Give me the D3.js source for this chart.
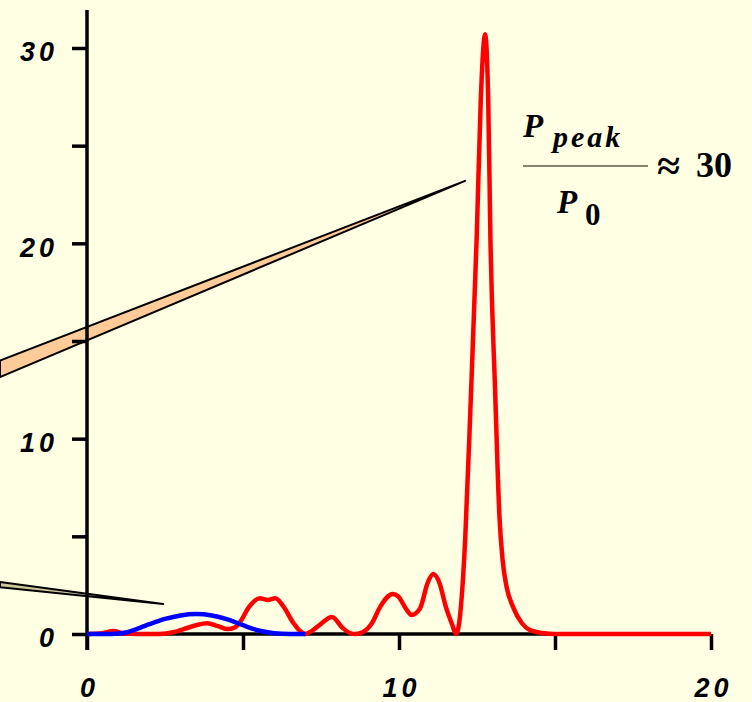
<!DOCTYPE html>
<html>
<head>
<meta charset="utf-8">
<script src="https://cdn.jsdelivr.net/npm/d3@7"></script>
<style>
    html, body { margin: 0; padding: 0; background: #FFFFE3; }
    svg { display: block; }
</style>
</head>
<body>
<div id="chart"></div>
<script>
// Values (x in units, y in units)
const redX = [0, 0.4, 0.85, 1.2, 1.6, 2.3, 2.8, 3.1, 3.5, 3.85, 4.2, 4.5, 4.75, 4.9, 5.2, 5.54, 5.8, 6.03, 6.3, 6.6, 6.85, 7.0,
    7.2, 7.47, 7.85, 8.2, 8.43, 8.6, 8.85, 9.13, 9.4, 9.8, 9.97, 10.25, 10.4, 10.67, 10.93, 11.1, 11.3, 11.5, 11.7, 11.83,
    11.95, 12.12, 12.3, 12.49, 12.62, 12.76, 12.86, 12.93, 13.08, 13.22, 13.32, 13.45, 13.65, 13.94, 14.2, 14.6, 15, 20];
const redY = [0, 0.02, 0.15, 0.02, 0, 0, 0.1, 0.25, 0.45, 0.55, 0.4, 0.25, 0.35, 0.6, 1.4, 1.83, 1.74, 1.83, 1.4, 0.6, 0.12, 0,
    0.15, 0.48, 0.87, 0.3, 0.05, 0, 0.1, 0.55, 1.4, 2.05, 1.93, 1.23, 0.97, 1.3, 2.67, 3.07, 2.6, 1.4, 0.5, 0,
    0.85, 4.8, 12, 20.3, 27.3, 30.7, 27.3, 20.3, 12.5, 6, 3.8, 2.4, 1.4, 0.55, 0.2, 0.05, 0, 0];

const blueX = [0, 0.8, 1.0, 1.25, 1.5, 1.75, 2.0, 2.5, 3.0, 3.5, 4.0, 4.5, 5.0, 5.5, 6.0, 6.5, 7.0];
const blueY = [0, 0, 0.02, 0.08, 0.2, 0.35, 0.5, 0.77, 0.95, 1.02, 0.95, 0.75, 0.45, 0.18, 0.04, 0, 0];

const xTicks = [0, 5, 10, 15, 20];
const yTicks = [0, 5, 10, 15, 20, 25, 30];

// callout wedges, in data units: [left-top, left-bottom, tip]
const upperWedge = [[-2.79, 14.0], [-2.79, 13.15], [12.12, 23.2]];
const lowerWedge = [[-2.79, 2.66], [-2.79, 2.4], [2.44, 1.53]];

const width = 752;
const height = 702;
const margin = { top: 48, right: 41, bottom: 68, left: 87 };

const svg = d3.select('#chart')
    .append('svg')
        .attr('width', width)
        .attr('height', height);

svg.append('rect')
    .attr('width', width)
    .attr('height', height)
    .attr('fill', '#FFFFE3');

const x = d3.scaleLinear().domain([0, 20]).range([margin.left, width - margin.right]);
const y = d3.scaleLinear().domain([0, 30]).range([height - margin.bottom, margin.top]);

// wedges behind everything
const wedge = (pts, fill) => {
    svg.append('path')
        .attr('d', d3.line().x(d => x(d[0])).y(d => y(d[1]))(pts) + 'Z')
        .attr('fill', fill)
        .attr('stroke', '#000')
        .attr('stroke-width', 2)
        .attr('stroke-linejoin', 'round');
};
wedge(upperWedge, '#FFCC99');
wedge(lowerWedge, '#CFC79C');

// axes
const axisFont = (sel) => sel
    .attr('font-family', 'Liberation Sans, Arial, sans-serif')
    .attr('font-size', '27px')
    .attr('font-weight', 'bold')
    .attr('font-style', 'italic')
    .attr('letter-spacing', '4px')
    .attr('fill', '#000');

const yAxis = svg.append('g')
    .attr('transform', `translate(${x(0)}, 0)`)
    .call(d3.axisLeft(y)
        .tickValues(yTicks)
        .tickSize(15)
        .tickPadding(14)
        .tickFormat(d => d % 10 === 0 ? d : ''));
yAxis.select('.domain').remove();
yAxis.selectAll('.tick line').attr('stroke', '#000').attr('stroke-width', 3.5);
yAxis.selectAll('.tick text').call(axisFont).attr('dy', '0.48em');

const xAxis = svg.append('g')
    .attr('transform', `translate(0, ${y(0)})`)
    .call(d3.axisBottom(x)
        .tickValues(xTicks)
        .tickSize(16)
        .tickPadding(28)
        .tickFormat(d => d % 10 === 0 ? d : ''));
xAxis.select('.domain').remove();
xAxis.selectAll('.tick line').attr('stroke', '#000').attr('stroke-width', 3.5);
xAxis.selectAll('.tick text').call(axisFont).attr('dx', '2px');

// axis lines
svg.append('line')
    .attr('x1', x(0)).attr('x2', x(0))
    .attr('y1', y(31.95)).attr('y2', y(0) + 16)
    .attr('stroke', '#000').attr('stroke-width', 3.5);
svg.append('line')
    .attr('x1', x(0)).attr('x2', x(20))
    .attr('y1', y(0)).attr('y2', y(0))
    .attr('stroke', '#000').attr('stroke-width', 3.5);

// curves
const line = d3.line()
    .x(d => x(d[0]))
    .y(d => y(d[1]))
    .curve(d3.curveMonotoneX);

svg.append('path')
    .attr('d', line(d3.zip(redX, redY)))
    .attr('fill', 'none')
    .attr('stroke', '#FF0000')
    .attr('stroke-width', 4.5)
    .attr('stroke-linejoin', 'round');

svg.append('path')
    .attr('d', line(d3.zip(blueX, blueY)))
    .attr('fill', 'none')
    .attr('stroke', '#0000FF')
    .attr('stroke-width', 4.5)
    .attr('stroke-linejoin', 'round');

// ratio label
const label = svg.append('g')
    .attr('font-family', 'Liberation Serif, Times New Roman, serif')
    .attr('font-weight', 'bold')
    .attr('fill', '#000');

label.append('text')
    .attr('x', 523).attr('y', 137)
    .attr('font-size', '33px')
    .attr('font-style', 'italic')
    .text('P');
label.append('text')
    .attr('x', 553).attr('y', 147)
    .attr('font-size', '30px')
    .attr('font-style', 'italic')
    .attr('letter-spacing', '3px')
    .text('peak');
label.append('line')
    .attr('x1', 523).attr('x2', 648)
    .attr('y1', 166).attr('y2', 166)
    .attr('stroke', '#85856F').attr('stroke-width', 2);
label.append('text')
    .attr('x', 557).attr('y', 213)
    .attr('font-size', '33px')
    .attr('font-style', 'italic')
    .text('P');
label.append('text')
    .attr('x', 585).attr('y', 225)
    .attr('font-size', '31px')
    .text('0');
label.append('text')
    .attr('x', 657).attr('y', 180)
    .attr('font-size', '42px')
    .text('≈');
label.append('text')
    .attr('x', 696).attr('y', 177)
    .attr('font-size', '36px')
    .text('30');
</script>
</body>
</html>
